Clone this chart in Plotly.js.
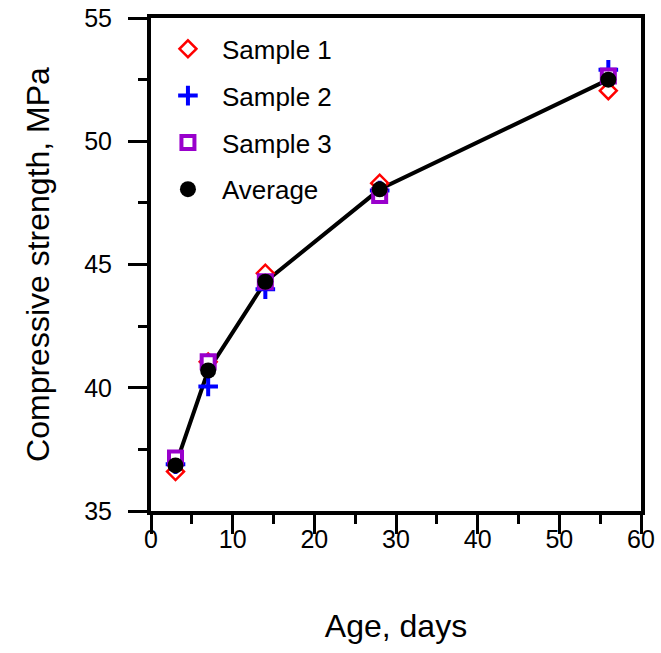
<!DOCTYPE html>
<html>
<head>
<meta charset="utf-8">
<script src="https://cdn.plot.ly/plotly-3.0.1.min.js"></script>
<style>html,body{margin:0;padding:0;background:#fff;}#chart{width:661px;height:653px;}</style>
</head>
<body>
<div id="chart"></div>
<script>
const ageDays = [3, 7, 14, 28, 56];
const sample1 = [36.6, 41.05, 44.65, 48.3, 52.05];
const sample2 = [36.9, 40.05, 44.0, 48.0, 52.9];
const sample3 = [37.15, 41.05, 44.3, 47.8, 52.65];
const average = [36.85, 40.7, 44.3, 48.05, 52.5];
const xTicks = [0, 10, 20, 30, 40, 50, 60];
const yTicks = [35, 40, 45, 50, 55];

const font = 'Liberation Sans, Arial, sans-serif';

const traces = [
  {x: ageDays, y: average, name: 'Average line', mode: 'lines', type: 'scatter', showlegend: false,
   line: {color: '#000000', width: 4}},
  {x: ageDays, y: sample1, name: 'Sample 1', mode: 'markers', type: 'scatter', legendgroup: 'a',
   marker: {symbol: 'diamond', size: 13, color: '#ffffff', line: {color: '#ff0000', width: 2.5}}},
  {x: ageDays, y: sample2, name: 'Sample 2', mode: 'markers', type: 'scatter', legendgroup: 'b',
   marker: {symbol: 'cross-thin', size: 14, color: '#0000ff', line: {color: '#0000ff', width: 4}}},
  {x: ageDays, y: sample3, name: 'Sample 3', mode: 'markers', type: 'scatter', legendgroup: 'c',
   marker: {symbol: 'square', size: 13, color: '#ffffff', line: {color: '#9900cc', width: 4}}},
  {x: ageDays, y: average, name: 'Average', mode: 'markers', type: 'scatter', legendgroup: 'd',
   marker: {symbol: 'circle', size: 16, color: '#000000'}}
];

const layout = {
  width: 661, height: 653,
  margin: {l: 151, r: 20, t: 18, b: 142, pad: 0},
  paper_bgcolor: '#ffffff', plot_bgcolor: '#ffffff',
  font: {family: font, color: '#000000', size: 25},
  showlegend: true,
  legend: {x: 0.006, y: 0.985, xanchor: 'left', yanchor: 'top', bgcolor: 'rgba(0,0,0,0)',
           font: {family: font, size: 26, color: '#000'}, tracegroupgap: 10, itemwidth: 58},
  xaxis: {
    range: [0, 60], tickvals: xTicks, ticktext: xTicks.map(String),
    showgrid: false, zeroline: false, showline: true, linecolor: '#000', linewidth: 4, mirror: true,
    ticks: 'outside', ticklen: 19, tickwidth: 3, tickcolor: '#000', ticklabelstandoff: -16,
    minor: {dtick: 5, ticks: 'outside', ticklen: 9, tickwidth: 3, tickcolor: '#000', showgrid: false},
    tickfont: {family: font, size: 25},
    title: {text: 'Age, days', font: {family: font, size: 32}, standoff: 64}
  },
  yaxis: {
    range: [35, 55], tickvals: yTicks, ticktext: yTicks.map(String),
    showgrid: false, zeroline: false, showline: true, linecolor: '#000', linewidth: 4, mirror: true,
    ticks: 'outside', ticklen: 19, tickwidth: 3, tickcolor: '#000', ticklabelstandoff: 11,
    minor: {dtick: 2.5, ticks: 'outside', ticklen: 9, tickwidth: 3, tickcolor: '#000', showgrid: false},
    tickfont: {family: font, size: 25},
    title: {text: 'Compressive strength, MPa', font: {family: font, size: 32}, standoff: 26}
  }
};

Plotly.newPlot('chart', traces, layout, {displayModeBar: false, staticPlot: true});
</script>
</body>
</html>
